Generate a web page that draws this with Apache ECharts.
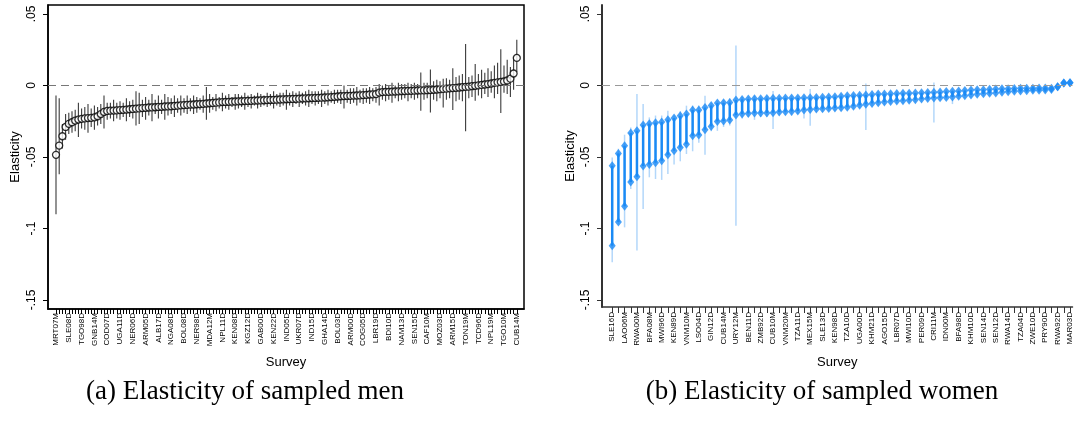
<!DOCTYPE html>
<html><head><meta charset="utf-8">
<script src="https://cdn.jsdelivr.net/npm/echarts@6/dist/echarts.min.js"></script>
<style>html,body{margin:0;padding:0;background:#fff}#c{width:1074px;height:439px}</style>
</head><body><div id="c"></div>
<script>
const menLabels = ['MRT07M','SLE08D','TGO98D','GNB14M','COD07D','UGA11D','NER06D','ARM05D','ALB17D','NGA08D',
 'BOL08D','NER98D','MDA12M','NPL11D','KEN08D','KGZ12D','GAB00D','KEN22D','IND05D','UKR07D',
 'IND15D','GHA14D','BOL03D','ARM00D','COG05D','LBR19D','BDI10D','NAM13D','SEN15D','CAF10M',
 'MOZ03D','ARM15D','TON19M','TCD96D','NPL19M','TGO10M','CUB14M'];
const menLabelStep = 4;
const menEst = [-0.0485,-0.0420,-0.0355,-0.0290,-0.0268,-0.0257,-0.0245,-0.0238,-0.0233,-0.0230,
 -0.0228,-0.0226,-0.0223,-0.0215,-0.0200,-0.0185,-0.0178,-0.0176,-0.0175,-0.0174,
 -0.0172,-0.0170,-0.0168,-0.0166,-0.0164,-0.0162,-0.0160,-0.0158,-0.0156,-0.0154,
 -0.0153,-0.0152,-0.0150,-0.0149,-0.0147,-0.0146,-0.0145,-0.0143,-0.0141,-0.0139,
 -0.0137,-0.0135,-0.0134,-0.0133,-0.0131,-0.0130,-0.0128,-0.0126,-0.0124,-0.0122,
 -0.0120,-0.0118,-0.0116,-0.0115,-0.0114,-0.0113,-0.0112,-0.0111,-0.0110,-0.0109,
 -0.0108,-0.0107,-0.0106,-0.0105,-0.0104,-0.0103,-0.0102,-0.0101,-0.0100,-0.0099,
 -0.0098,-0.0097,-0.0096,-0.0095,-0.0094,-0.0093,-0.0092,-0.0091,-0.0090,-0.0089,
 -0.0088,-0.0087,-0.0086,-0.0085,-0.0084,-0.0083,-0.0081,-0.0079,-0.0077,-0.0075,
 -0.0074,-0.0073,-0.0072,-0.0071,-0.0070,-0.0069,-0.0067,-0.0065,-0.0063,-0.0062,
 -0.0060,-0.0050,-0.0046,-0.0045,-0.0044,-0.0043,-0.0042,-0.0041,-0.0040,-0.0039,
 -0.0038,-0.0037,-0.0036,-0.0035,-0.0034,-0.0034,-0.0033,-0.0032,-0.0030,-0.0028,
 -0.0026,-0.0024,-0.0022,-0.0020,-0.0018,-0.0016,-0.0014,-0.0012,-0.0010,-0.0008,
 -0.0005,-0.0002,0.0001,0.0004,0.0007,0.0010,0.0014,0.0018,0.0022,0.0025,
 0.0028,0.0035,0.0048,0.0084,0.0193];
const menLo = [-0.0900,-0.0620,-0.0440,-0.0380,-0.0340,-0.0330,-0.0320,-0.0360,-0.0300,-0.0310,
 -0.0330,-0.0290,-0.0310,-0.0280,-0.0270,-0.0300,-0.0240,-0.0230,-0.0250,-0.0230,
 -0.0240,-0.0220,-0.0250,-0.0220,-0.0230,-0.0280,-0.0270,-0.0220,-0.0240,-0.0210,
 -0.0250,-0.0200,-0.0230,-0.0200,-0.0240,-0.0210,-0.0200,-0.0220,-0.0190,-0.0210,
 -0.0190,-0.0200,-0.0180,-0.0200,-0.0190,-0.0170,-0.0190,-0.0240,-0.0190,-0.0170,
 -0.0180,-0.0160,-0.0180,-0.0160,-0.0170,-0.0150,-0.0170,-0.0160,-0.0150,-0.0170,
 -0.0150,-0.0160,-0.0140,-0.0160,-0.0150,-0.0140,-0.0150,-0.0140,-0.0160,-0.0140,
 -0.0150,-0.0140,-0.0170,-0.0140,-0.0150,-0.0130,-0.0150,-0.0130,-0.0140,-0.0150,
 -0.0130,-0.0140,-0.0130,-0.0150,-0.0130,-0.0140,-0.0120,-0.0130,-0.0120,-0.0130,
 -0.0160,-0.0120,-0.0130,-0.0120,-0.0140,-0.0120,-0.0130,-0.0120,-0.0130,-0.0110,
 -0.0120,-0.0140,-0.0100,-0.0110,-0.0100,-0.0120,-0.0090,-0.0110,-0.0100,-0.0090,
 -0.0110,-0.0090,-0.0100,-0.0090,-0.0177,-0.0100,-0.0090,-0.0188,-0.0100,-0.0110,
 -0.0090,-0.0154,-0.0100,-0.0090,-0.0172,-0.0110,-0.0100,-0.0110,-0.0320,-0.0090,
 -0.0080,-0.0107,-0.0070,-0.0090,-0.0060,-0.0080,-0.0050,-0.0090,-0.0060,-0.0193,
 -0.0050,-0.0060,-0.0080,-0.0030,0.0095];
const menHi = [-0.0070,-0.0090,-0.0270,-0.0200,-0.0190,-0.0180,-0.0170,-0.0120,-0.0160,-0.0150,
 -0.0130,-0.0160,-0.0140,-0.0150,-0.0130,-0.0070,-0.0120,-0.0120,-0.0100,-0.0120,
 -0.0110,-0.0120,-0.0090,-0.0110,-0.0100,-0.0040,-0.0050,-0.0100,-0.0080,-0.0100,
 -0.0060,-0.0100,-0.0070,-0.0100,-0.0060,-0.0080,-0.0090,-0.0070,-0.0090,-0.0070,
 -0.0090,-0.0070,-0.0090,-0.0070,-0.0080,-0.0090,-0.0070,-0.0010,-0.0060,-0.0080,
 -0.0060,-0.0080,-0.0050,-0.0070,-0.0060,-0.0080,-0.0060,-0.0060,-0.0070,-0.0050,
 -0.0070,-0.0060,-0.0070,-0.0050,-0.0060,-0.0070,-0.0050,-0.0060,-0.0040,-0.0060,
 -0.0050,-0.0050,-0.0030,-0.0050,-0.0040,-0.0050,-0.0040,-0.0050,-0.0040,-0.0030,
 -0.0040,-0.0040,-0.0040,-0.0030,-0.0040,-0.0030,-0.0040,-0.0030,-0.0030,-0.0030,
 0.0000,-0.0030,-0.0020,-0.0020,-0.0010,-0.0030,-0.0020,-0.0020,-0.0010,-0.0020,
 -0.0010,0.0010,0.0000,0.0010,0.0000,0.0020,0.0000,0.0020,0.0010,0.0010,
 0.0020,0.0010,0.0020,0.0010,0.0091,0.0020,0.0020,0.0112,0.0030,0.0040,
 0.0030,0.0047,0.0050,0.0040,0.0121,0.0060,0.0070,0.0080,0.0290,0.0060,
 0.0070,0.0150,0.0080,0.0110,0.0090,0.0120,0.0100,0.0140,0.0160,0.0254,
 0.0140,0.0180,0.0130,0.0200,0.0320];

const womenLabels = ['SLE16D','LAO06M','RWA00M','BFA08M','MWI96D','KEN89D','VNM10M','LSO04D','GIN12D','CUB14M',
 'URY12M','BEN11D','ZMB92D','CUB10M','VNM20M','TZA11D','MEX15M','SLE13D','KEN98D','TZA10D',
 'UGA00D','KHM21D','AGO15D','LBR07D','MWI10D','PER09D','CRI11M','IDN00M','BFA98D','KHM10D',
 'SEN14D','SEN12D','RWA14D','TZA04D','ZWE10D','PRY90D','RWA92D','MAR03D'];
const womenLabelStep = 2;
const womenUpper = [-0.0561,-0.0475,-0.0421,-0.0333,-0.0316,-0.0277,-0.0267,-0.0260,-0.0256,-0.0240,
 -0.0228,-0.0212,-0.0200,-0.0172,-0.0172,-0.0154,-0.0140,-0.0123,-0.0121,-0.0119,
 -0.0102,-0.0097,-0.0095,-0.0093,-0.0092,-0.0091,-0.0090,-0.0089,-0.0088,-0.0088,
 -0.0087,-0.0086,-0.0085,-0.0084,-0.0083,-0.0081,-0.0079,-0.0076,-0.0072,-0.0070,
 -0.0068,-0.0066,-0.0063,-0.0060,-0.0059,-0.0058,-0.0056,-0.0055,-0.0054,-0.0053,
 -0.0051,-0.0049,-0.0047,-0.0045,-0.0042,-0.0040,-0.0038,-0.0035,-0.0032,-0.0030,
 -0.0029,-0.0027,-0.0025,-0.0023,-0.0022,-0.0021,-0.0020,-0.0019,-0.0019,-0.0018,
 -0.0018,-0.0020,-0.0009,0.0017,0.0019];
const womenLower = [-0.1120,-0.0954,-0.0845,-0.0675,-0.0638,-0.0563,-0.0552,-0.0540,-0.0526,-0.0484,
 -0.0456,-0.0433,-0.0410,-0.0351,-0.0347,-0.0309,-0.0286,-0.0251,-0.0249,-0.0242,
 -0.0207,-0.0200,-0.0195,-0.0193,-0.0193,-0.0192,-0.0190,-0.0185,-0.0183,-0.0181,
 -0.0178,-0.0172,-0.0167,-0.0164,-0.0162,-0.0160,-0.0157,-0.0155,-0.0152,-0.0145,
 -0.0138,-0.0131,-0.0125,-0.0120,-0.0115,-0.0112,-0.0109,-0.0106,-0.0103,-0.0100,
 -0.0095,-0.0091,-0.0088,-0.0086,-0.0084,-0.0080,-0.0076,-0.0071,-0.0066,-0.0061,
 -0.0058,-0.0055,-0.0052,-0.0048,-0.0044,-0.0041,-0.0038,-0.0036,-0.0034,-0.0033,
 -0.0032,-0.0028,-0.0009,0.0017,0.0019];
const womenCiLo = [-0.1236,-0.0972,-0.0992,-0.0724,-0.1154,-0.0863,-0.0642,-0.0654,-0.0660,-0.0619,
 -0.0552,-0.0530,-0.0479,-0.0460,-0.0400,-0.0484,-0.0320,-0.0317,-0.0290,-0.0280,
 -0.0980,-0.0230,-0.0220,-0.0240,-0.0220,-0.0220,-0.0305,-0.0210,-0.0205,-0.0210,
 -0.0200,-0.0230,-0.0281,-0.0185,-0.0185,-0.0180,-0.0178,-0.0175,-0.0172,-0.0165,
 -0.0158,-0.0312,-0.0145,-0.0140,-0.0135,-0.0132,-0.0128,-0.0125,-0.0122,-0.0118,
 -0.0113,-0.0110,-0.0258,-0.0105,-0.0102,-0.0130,-0.0094,-0.0089,-0.0084,-0.0079,
 -0.0076,-0.0072,-0.0068,-0.0064,-0.0060,-0.0057,-0.0054,-0.0052,-0.0050,-0.0049,
 -0.0048,-0.0044,-0.0025,0.0003,0.0005];
const womenCiHi = [-0.0503,-0.0442,-0.0344,-0.0293,-0.0060,-0.0130,-0.0223,-0.0210,-0.0210,-0.0177,
 -0.0210,-0.0180,-0.0141,-0.0140,-0.0140,-0.0072,-0.0120,-0.0110,-0.0100,-0.0090,
 0.0280,-0.0080,-0.0080,-0.0070,-0.0080,-0.0075,-0.0038,-0.0075,-0.0075,-0.0070,
 -0.0075,-0.0070,-0.0025,-0.0070,-0.0070,-0.0068,-0.0065,-0.0062,-0.0060,-0.0058,
 -0.0056,0.0014,-0.0050,-0.0048,-0.0047,-0.0046,-0.0044,-0.0043,-0.0042,-0.0041,
 -0.0039,-0.0037,0.0021,-0.0033,-0.0030,-0.0028,-0.0026,-0.0023,-0.0020,-0.0018,
 -0.0017,-0.0015,-0.0013,-0.0011,-0.0010,-0.0009,-0.0008,-0.0007,-0.0007,-0.0006,
 -0.0006,-0.0008,0.0005,0.0031,0.0033];

const yTicks = [-0.15, -0.1, -0.05, 0, 0.05];
const yTickText = ['-.15', '-.1', '-.05', '0', '.05'];

function yFmt(v) {
  let best = 0;
  for (let k = 0; k < yTicks.length; k++) if (Math.abs(yTicks[k] - v) < Math.abs(yTicks[best] - v)) best = k;
  return yTickText[best];
}
function vline(color, width) {
  return function (params, api) {
    const p1 = api.coord([api.value(0), api.value(1)]);
    const p2 = api.coord([api.value(0), api.value(2)]);
    return { type: 'line', shape: { x1: p1[0], y1: p1[1], x2: p2[0], y2: p2[1] },
      style: { stroke: color, lineWidth: width } };
  };
}
const menIdx = menEst.map((_, i) => i);
const womenIdx = womenUpper.map((_, i) => i);
const menLabelPos = menLabels.map((_, k) => k * menLabelStep);
const womenLabelPos = womenLabels.map((_, k) => k * womenLabelStep);

const FONT = 'Liberation Sans';
const zeroLine = (color) => ({
  silent: true, symbol: 'none', animation: false, label: { show: false },
  lineStyle: { color: color, type: [8, 5], width: 1.2 }, data: [{ yAxis: 0 }]
});

const chart = echarts.init(document.getElementById('c'), null, { renderer: 'canvas' });
chart.setOption({
  animation: false,
  backgroundColor: '#fff',
  textStyle: { fontFamily: FONT },
  grid: [
    { left: 48, top: 5, width: 476, height: 304, show: true, borderColor: '#000', borderWidth: 1.5, backgroundColor: 'transparent' },
    { left: 602, top: 5, width: 471, height: 302 }
  ],
  xAxis: [
    { type: 'value', gridIndex: 0, min: -2.5, max: 146.25, splitLine: { show: false },
      axisLine: { show: true, onZero: false, lineStyle: { color: '#000', width: 1.5 } },
      axisTick: { show: true, customValues: menIdx, length: 5, lineStyle: { color: '#000', width: 1 } },
      axisLabel: { customValues: menLabelPos, rotate: 90, fontSize: 8, color: '#000', margin: 4, fontFamily: FONT,
        formatter: (v) => menLabels[Math.round(v / menLabelStep)] },
      name: 'Survey', nameLocation: 'middle', nameGap: 47,
      nameTextStyle: { fontSize: 13, color: '#000', fontFamily: FONT } },
    { type: 'value', gridIndex: 1, min: -1.65, max: 74.4, splitLine: { show: false },
      axisLine: { show: true, onZero: false, lineStyle: { color: '#333', width: 1.5 } },
      axisTick: { show: true, customValues: womenIdx, length: 6, lineStyle: { color: '#333', width: 1 } },
      axisLabel: { customValues: womenLabelPos, rotate: 90, fontSize: 8, color: '#000', margin: 5, fontFamily: FONT,
        formatter: (v) => womenLabels[Math.round(v / womenLabelStep)] },
      name: 'Survey', nameLocation: 'middle', nameGap: 49,
      nameTextStyle: { fontSize: 13, color: '#000', fontFamily: FONT } }
  ],
  yAxis: [
    { type: 'value', gridIndex: 0, min: -0.1563, max: 0.0563, splitLine: { show: false },
      axisLine: { show: true, onZero: false, lineStyle: { color: '#000', width: 1.5 } },
      axisTick: { show: true, customValues: yTicks, length: 5, lineStyle: { color: '#000', width: 1 } },
      axisLabel: { customValues: yTicks, rotate: 90, fontSize: 12, color: '#000', margin: 10, fontFamily: FONT, formatter: yFmt },
      name: 'Elasticity', nameLocation: 'middle', nameGap: 26, nameRotate: 90,
      nameTextStyle: { fontSize: 13, color: '#000', fontFamily: FONT } },
    { type: 'value', gridIndex: 1, min: -0.1549, max: 0.0563, splitLine: { show: false },
      axisLine: { show: true, onZero: false, lineStyle: { color: '#333', width: 2 } },
      axisTick: { show: true, customValues: yTicks, length: 5, lineStyle: { color: '#333', width: 1 } },
      axisLabel: { customValues: yTicks, rotate: 90, fontSize: 12, color: '#000', margin: 10, fontFamily: FONT, formatter: yFmt },
      name: 'Elasticity', nameLocation: 'middle', nameGap: 25, nameRotate: 90,
      nameTextStyle: { fontSize: 13, color: '#000', fontFamily: FONT } }
  ],
  series: [
    { type: 'custom', xAxisIndex: 0, yAxisIndex: 0, renderItem: vline('#3a3a3a', 1.1), silent: true,
      encode: { x: 0, y: [1, 2] }, data: menIdx.map(i => [i, menLo[i], menHi[i]]), z: 2 },
    { type: 'scatter', xAxisIndex: 0, yAxisIndex: 0, symbol: 'circle', symbolSize: 7, silent: true,
      itemStyle: { color: '#fff', borderColor: '#000', borderWidth: 1.3 },
      data: menIdx.map(i => [i, menEst[i]]), markLine: zeroLine('#777'), z: 3 },
    { type: 'custom', xAxisIndex: 1, yAxisIndex: 1, renderItem: vline('#b3d7fa', 1.5), silent: true,
      encode: { x: 0, y: [1, 2] }, data: womenIdx.map(i => [i, womenCiLo[i], womenCiHi[i]]), z: 2 },
    { type: 'custom', xAxisIndex: 1, yAxisIndex: 1, renderItem: vline('#1a8af5', 2.5), silent: true,
      encode: { x: 0, y: [1, 2] }, data: womenIdx.map(i => [i, womenLower[i], womenUpper[i]]), z: 3 },
    { type: 'scatter', xAxisIndex: 1, yAxisIndex: 1, symbol: 'diamond', symbolSize: [7, 9], silent: true,
      itemStyle: { color: '#1a8af5' }, data: womenIdx.map(i => [i, womenUpper[i]]),
      markLine: zeroLine('#999'), z: 4 },
    { type: 'scatter', xAxisIndex: 1, yAxisIndex: 1, symbol: 'diamond', symbolSize: [7, 9], silent: true,
      itemStyle: { color: '#1a8af5' }, data: womenIdx.map(i => [i, womenLower[i]]), z: 4 }
  ],
  graphic: [
    { type: 'text', x: 245, y: 392, silent: true,
      style: { text: '(a) Elasticity of sampled men', font: '27px "Liberation Serif"', fill: '#000', textAlign: 'center', textVerticalAlign: 'middle' } },
    { type: 'text', x: 822, y: 392, silent: true,
      style: { text: '(b) Elasticity of sampled women', font: '27px "Liberation Serif"', fill: '#000', textAlign: 'center', textVerticalAlign: 'middle' } }
  ]
});
</script>
</body></html>
